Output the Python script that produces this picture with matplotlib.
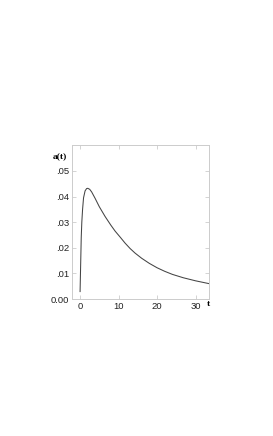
import matplotlib
matplotlib.use("Agg")
import matplotlib.pyplot as plt
from matplotlib.ticker import FuncFormatter

# values
t = [0.0, 0.1, 0.2, 0.3, 0.45, 0.65, 0.9, 1.3, 1.7, 2.0, 2.5, 3.0, 3.9, 5.0,
     6.5, 8.0, 9.1, 10.5, 11.7, 13.0, 14.3, 16.0, 18.0, 20.0, 22.0, 24.0,
     26.8, 30.0, 33.5]
a = [0.0029, 0.010, 0.017, 0.024, 0.030, 0.035, 0.0395, 0.0422, 0.0431, 0.0432,
     0.0428, 0.0418, 0.0393, 0.0360, 0.0322, 0.0288, 0.0265, 0.0240, 0.0218,
     0.0197, 0.0179, 0.0159, 0.0139, 0.0122, 0.0108, 0.0096, 0.0083, 0.0071,
     0.0060]

xticks = [0, 10, 20, 30]
yticks = [0.0, 0.01, 0.02, 0.03, 0.04, 0.05]

plt.rcParams['font.family'] = ['Liberation Sans', 'DejaVu Sans']

fig = plt.figure(figsize=(2.73, 4.36), dpi=100)
ax = fig.add_axes([72 / 273, 1 - 299 / 436, 137 / 273, 154 / 436])
ax.plot(t, a, color="#444444", lw=0.75)
ax.set_xlim(-2.1, 33.5)
ax.set_ylim(0, 0.0601)
ax.set_xticks(xticks)
ax.set_yticks(yticks)


def yfmt(v, pos):
    if v == 0:
        return "0.00"
    return ("%.2f" % v)[1:]


ax.yaxis.set_major_formatter(FuncFormatter(yfmt))
ax.tick_params(direction="in", top=True, right=True, length=3, width=0.6,
               color="#cccccc", labelsize=6.8, pad=2, labelcolor="#222222")
for s in ax.spines.values():
    s.set_color("#cccccc")
    s.set_linewidth(0.7)

fig.text(53 / 273, 1 - 157 / 436, "a(t)", fontsize=6.8, fontweight="bold",
         family=['Liberation Serif', 'DejaVu Serif'], ha="left", va="center")
fig.text(207 / 273, 1 - 304 / 436, "t", fontsize=6.8, fontweight="bold",
         family=['Liberation Serif', 'DejaVu Serif'], ha="left", va="center")

fig.savefig("out.png", dpi=100)
